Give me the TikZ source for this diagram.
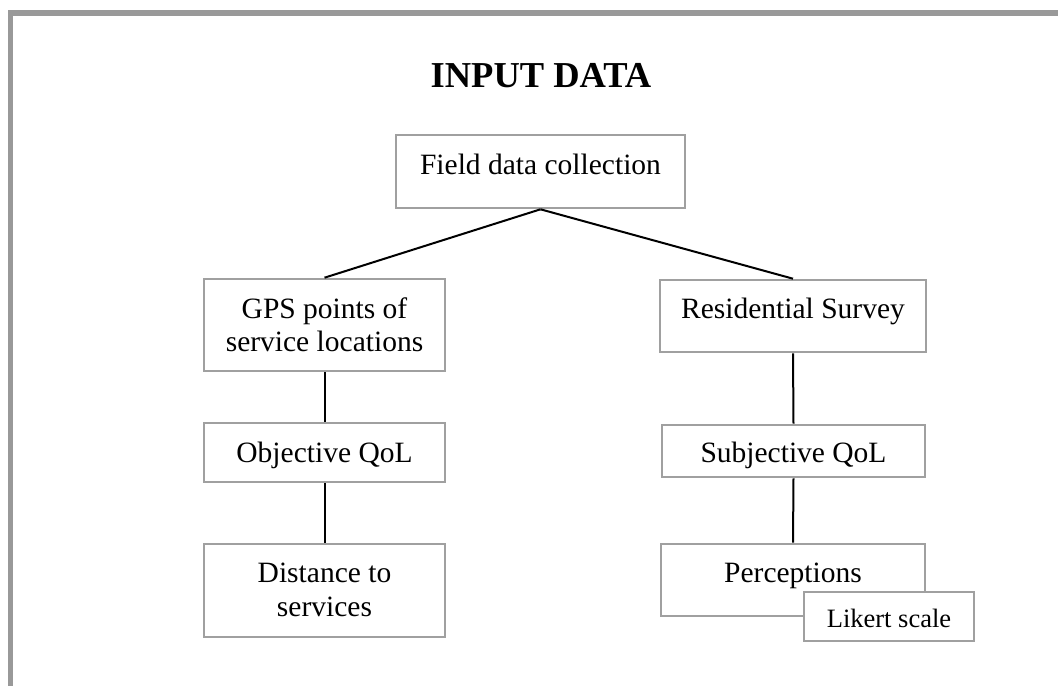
\documentclass[tikz,border=0pt]{standalone}
\usepackage{fontspec}
\setmainfont{Liberation Serif}
\definecolor{frame}{HTML}{999999}
\definecolor{boxline}{HTML}{A0A0A0}
\tikzset{
  box/.style={draw=boxline, line width=2.6pt, fill=white, rectangle, inner sep=0pt},
  txt/.style={anchor=base, inner sep=0pt, font=\fontsize{29.5}{34}\selectfont},
  small/.style={anchor=base, inner sep=0pt, font=\fontsize{26.5}{31}\selectfont},
  link/.style={draw=black, line width=2pt}
}
\begin{document}
\begin{tikzpicture}[x=1pt, y=-1pt]
\useasboundingbox (0,0) rectangle (1058,686);
% outer frame: top and left bands
\fill[frame] (7.5,10) rectangle (1058,16);
\fill[frame] (7.5,10) rectangle (12.7,686);

% title
\node[anchor=base, inner sep=0pt, font=\fontsize{36.5}{40}\selectfont\bfseries] (title) at (541,87) {INPUT DATA};

% boxes
\node[box, minimum width=289pt, minimum height=73pt] (field) at (540.5,171.5) {};
\node[box, minimum width=241pt, minimum height=92pt] (gps) at (324.5,325) {};
\node[box, minimum width=266pt, minimum height=72pt] (res) at (793,316) {};
\node[box, minimum width=241pt, minimum height=59pt] (obj) at (324.5,452.5) {};
\node[box, minimum width=263pt, minimum height=52pt] (subj) at (793.5,451) {};
\node[box, minimum width=241pt, minimum height=93pt] (dist) at (324.5,590.5) {};
\node[box, minimum width=264pt, minimum height=72pt] (perc) at (793,580) {};
\node[box, minimum width=170pt, minimum height=49pt] (likert) at (889,616.5) {};

% box texts
\node[txt] (field-t) at (540.5,174) {Field data collection};
\node[txt] (gps-t1) at (324.5,318) {GPS points of};
\node[txt] (gps-t2) at (324.5,351) {service locations};
\node[txt] (res-t) at (793,318) {Residential Survey};
\node[txt] (obj-t) at (324.5,462) {Objective QoL};
\node[txt] (subj-t) at (793.5,462) {Subjective QoL};
\node[txt] (dist-t1) at (324.5,582) {Distance to};
\node[txt] (dist-t2) at (324.5,616) {services};
\node[txt] (perc-t) at (793,582) {Perceptions};
\node[small] (likert-t) at (889,627) {Likert scale};

% connectors
\draw[link] (field.south) -- (gps.north);
\draw[link] (field.south) -- (res.north);
\draw[link] (gps.south) -- (obj.north);
\draw[link] (obj.south) -- (dist.north);
\draw[link] (res.south) -- (subj.north);
\draw[link] (subj.south) -- (perc.north);
\end{tikzpicture}
\end{document}
